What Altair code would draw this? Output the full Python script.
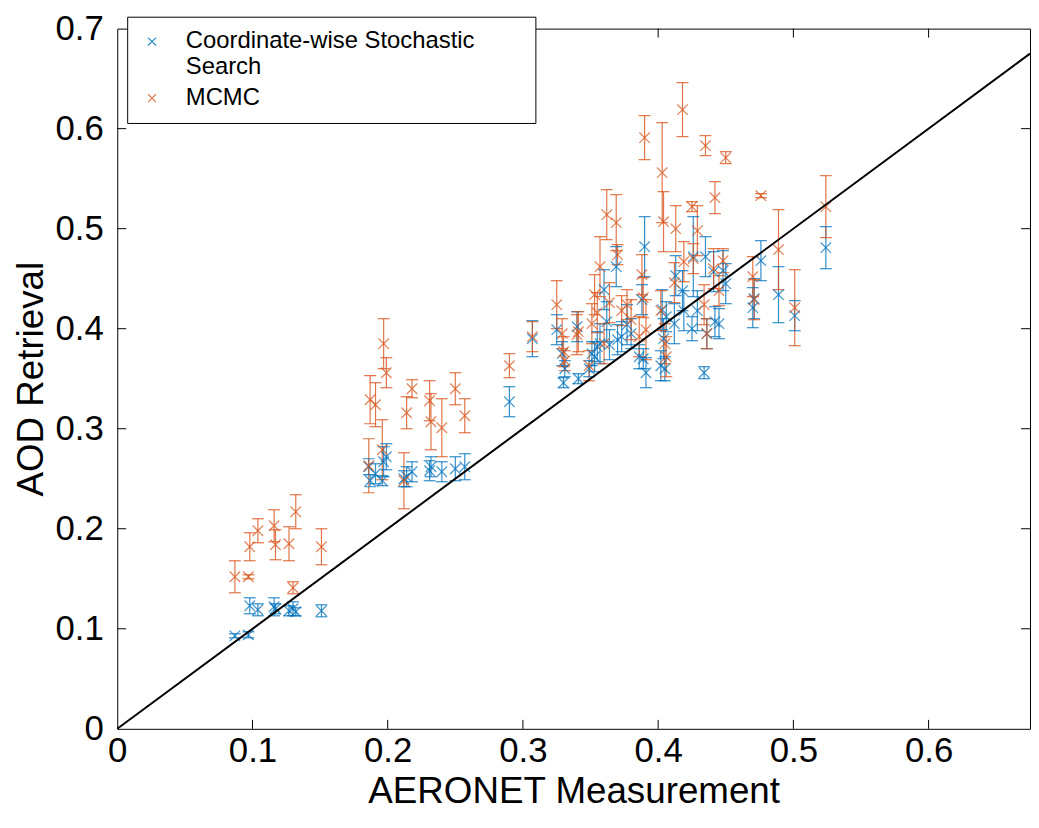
import altair as alt
import pandas as pd

# AERONET measurement (x) shared by both retrievals
x_meas = [0.087, 0.097, 0.098, 0.104, 0.116, 0.117, 0.127, 0.130, 0.132, 0.151,
          0.186, 0.187, 0.191, 0.196, 0.197, 0.199, 0.212, 0.214, 0.218, 0.231,
          0.232, 0.240, 0.250, 0.257, 0.290, 0.307, 0.325, 0.329, 0.330, 0.331,
          0.340, 0.341, 0.349, 0.351, 0.353, 0.355, 0.357, 0.360, 0.362, 0.364,
          0.369, 0.370, 0.373, 0.377, 0.380, 0.386, 0.388, 0.389, 0.390, 0.391,
          0.402, 0.403, 0.404, 0.405, 0.406, 0.412, 0.413, 0.418, 0.419, 0.425,
          0.426, 0.429, 0.434, 0.435, 0.436, 0.441, 0.442, 0.445, 0.448, 0.450,
          0.470, 0.471, 0.476, 0.489, 0.501, 0.524]

css_y = [0.093, 0.094, 0.123, 0.119, 0.122, 0.120, 0.118, 0.120, 0.117, 0.118,
         0.262, 0.248, 0.255, 0.248, 0.267, 0.272, 0.250, 0.252, 0.257, 0.258,
         0.262, 0.257, 0.260, 0.262, 0.327, 0.390, 0.399, 0.375, 0.346, 0.360,
         0.402, 0.350, 0.360, 0.375, 0.372, 0.382, 0.385, 0.439, 0.407, 0.384,
         0.462, 0.389, 0.392, 0.404, 0.395, 0.372, 0.429, 0.370, 0.482, 0.356,
         0.363, 0.419, 0.390, 0.360, 0.412, 0.405, 0.453, 0.438, 0.418, 0.400,
         0.472, 0.418, 0.356, 0.472, 0.395, 0.457, 0.407, 0.405, 0.458, 0.445,
         0.421, 0.430, 0.468, 0.434, 0.413, 0.481]

css_err = [0.002, 0.003, 0.008, 0.006, 0.009, 0.005, 0.005, 0.007, 0.004, 0.006,
           0.008, 0.006, 0.010, 0.005, 0.015, 0.013, 0.008, 0.010, 0.010, 0.010,
           0.010, 0.010, 0.012, 0.013, 0.015, 0.018, 0.015, 0.012, 0.005, 0.008,
           0.015, 0.005, 0.008, 0.012, 0.015, 0.015, 0.020, 0.020, 0.020, 0.015,
           0.020, 0.015, 0.015, 0.020, 0.015, 0.012, 0.015, 0.010, 0.030, 0.015,
           0.015, 0.020, 0.020, 0.012, 0.015, 0.020, 0.020, 0.020, 0.020, 0.012,
           0.040, 0.020, 0.006, 0.020, 0.015, 0.020, 0.015, 0.015, 0.020, 0.020,
           0.020, 0.020, 0.020, 0.028, 0.015, 0.021]

mcmc_y = [0.152, 0.152, 0.182, 0.198, 0.203, 0.184, 0.185, 0.141, 0.217, 0.182,
          0.263, 0.329, 0.324, 0.279, 0.385, 0.356, 0.248, 0.316, 0.340, 0.328,
          0.307, 0.301, 0.340, 0.313, 0.363, 0.392, 0.424, 0.395, 0.377, 0.368,
          0.394, 0.397, 0.363, 0.405, 0.434, 0.416, 0.462, 0.385, 0.514, 0.426,
          0.506, 0.474, 0.418, 0.424, 0.409, 0.392, 0.454, 0.431, 0.591, 0.399,
          0.418, 0.556, 0.507, 0.385, 0.372, 0.446, 0.500, 0.619, 0.467, 0.522,
          0.470, 0.498, 0.424, 0.583, 0.395, 0.460, 0.531, 0.438, 0.468, 0.571,
          0.452, 0.429, 0.533, 0.479, 0.421, 0.522]

mcmc_err = [0.016, 0.002, 0.014, 0.012, 0.016, 0.015, 0.017, 0.006, 0.017, 0.018,
            0.027, 0.024, 0.022, 0.030, 0.025, 0.015, 0.028, 0.016, 0.009, 0.020,
            0.028, 0.029, 0.016, 0.017, 0.012, 0.015, 0.024, 0.015, 0.015, 0.010,
            0.020, 0.020, 0.015, 0.020, 0.020, 0.020, 0.030, 0.020, 0.025, 0.020,
            0.028, 0.010, 0.015, 0.015, 0.020, 0.020, 0.020, 0.020, 0.022, 0.030,
            0.020, 0.050, 0.030, 0.020, 0.020, 0.020, 0.023, 0.027, 0.020, 0.005,
            0.015, 0.025, 0.020, 0.010, 0.015, 0.020, 0.016, 0.015, 0.012, 0.006,
            0.020, 0.020, 0.002, 0.040, 0.038, 0.031]

series_names = ["Coordinate-wise Stochastic Search", "MCMC"]
series_colors = ["#0072BD", "#D95319"]

diag_x = [0.0, 0.675]
x_ticks = [0, 0.1, 0.2, 0.3, 0.4, 0.5, 0.6]
y_ticks = [0, 0.1, 0.2, 0.3, 0.4, 0.5, 0.6, 0.7]

rows = []
for name, ys_, es_ in [(series_names[0], css_y, css_err), (series_names[1], mcmc_y, mcmc_err)]:
    for xv, yv, ev in zip(x_meas, ys_, es_):
        rows.append({"x": xv, "y": yv, "lo": yv - ev, "hi": yv + ev, "method": name})
df = pd.DataFrame(rows)
diag_df = pd.DataFrame({"x": diag_x, "y": diag_x})
xt_df = pd.DataFrame({"v": x_ticks[1:]})
yt_df = pd.DataFrame({"v": y_ticks[1:-1]})

W, H = 919, 705
FONT = "Liberation Sans"
TICK = 9
CROSS = "M-1,-1L1,1M-1,1L1,-1"
PAD = "\u2003\u2003\u200b"

xs = alt.Scale(domain=[0, 0.675], nice=False, zero=False)
ys = alt.Scale(domain=[0, 0.7], nice=False, zero=False)
cscale = alt.Scale(domain=series_names, range=series_colors)

x_axis = alt.Axis(values=x_ticks, format="~g", ticks=False, domain=False, grid=False,
                  labelFont=FONT, labelFontSize=35, labelColor="black", labelPadding=5,
                  labelFlush=False, title="AERONET Measurement", titleFont=FONT,
                  titleFontSize=37, titleFontWeight="normal", titleColor="black",
                  titlePadding=5)
y_axis = alt.Axis(values=y_ticks, format="~g", ticks=False, domain=False, grid=False,
                  labelFont=FONT, labelFontSize=35, labelColor="black", labelPadding=14,
                  labelFlush=False, title="AOD Retrieval", titleFont=FONT,
                  titleFontSize=37, titleFontWeight="normal", titleColor="black",
                  titlePadding=5)

legend = alt.Legend(
    title=None, orient="none", legendX=10, legendY=-12,
    fillColor="white", strokeColor="black", padding=13,
    labelFont=FONT, labelFontSize=24, labelColor="black", labelLimit=700,
    symbolType=CROSS, symbolSize=64, symbolStrokeWidth=1.2,
    labelExpr="datum.label == 'Coordinate-wise Stochastic Search' ? ['Coordinate-wise Stochastic" + PAD + "', 'Search'] : datum.label",
    rowPadding=7, labelOffset=22,
)
color = alt.Color("method:N", scale=cscale, legend=legend)

base = alt.Chart(df)

bars = base.mark_rule(strokeWidth=1.2, opacity=0.8).encode(
    x=alt.X("x:Q", scale=xs, axis=x_axis),
    y=alt.Y("lo:Q", scale=ys, axis=y_axis),
    y2="hi:Q",
    color=color,
)
caps_lo = base.mark_tick(orient="horizontal", size=12, thickness=1.2, opacity=0.8).encode(
    x=alt.X("x:Q", scale=xs), y=alt.Y("lo:Q", scale=ys), color=color,
)
caps_hi = base.mark_tick(orient="horizontal", size=12, thickness=1.2, opacity=0.8).encode(
    x=alt.X("x:Q", scale=xs), y=alt.Y("hi:Q", scale=ys), color=color,
)
points = base.mark_point(shape=CROSS, size=110, filled=False, strokeWidth=1.3).encode(
    x=alt.X("x:Q", scale=xs),
    y=alt.Y("y:Q", scale=ys),
    color=color,
)

diag = alt.Chart(diag_df).mark_line(color="black", strokeWidth=2).encode(
    x=alt.X("x:Q", scale=xs), y=alt.Y("y:Q", scale=ys)
)

tick_style = dict(color="black", strokeWidth=1)
t_bottom = alt.Chart(xt_df).mark_rule(**tick_style).encode(
    x=alt.X("v:Q", scale=xs), y=alt.value(H), y2=alt.value(H - TICK))
t_top = alt.Chart(xt_df).mark_rule(**tick_style).encode(
    x=alt.X("v:Q", scale=xs), y=alt.value(0), y2=alt.value(TICK))
t_left = alt.Chart(yt_df).mark_rule(**tick_style).encode(
    y=alt.Y("v:Q", scale=ys), x=alt.value(0), x2=alt.value(TICK))
t_right = alt.Chart(yt_df).mark_rule(**tick_style).encode(
    y=alt.Y("v:Q", scale=ys), x=alt.value(W), x2=alt.value(W - TICK))

chart = alt.layer(
    bars, caps_lo, caps_hi, points, diag, t_bottom, t_top, t_left, t_right
).properties(
    width=W, height=H,
    autosize=alt.AutoSizeParams(type="none"),
    padding={"left": 110, "top": 18, "right": 1, "bottom": 82},
    background="white",
).configure_view(
    stroke="black", strokeWidth=1
)

chart.save("out.html", embed_options={"renderer": "svg", "actions": False})
